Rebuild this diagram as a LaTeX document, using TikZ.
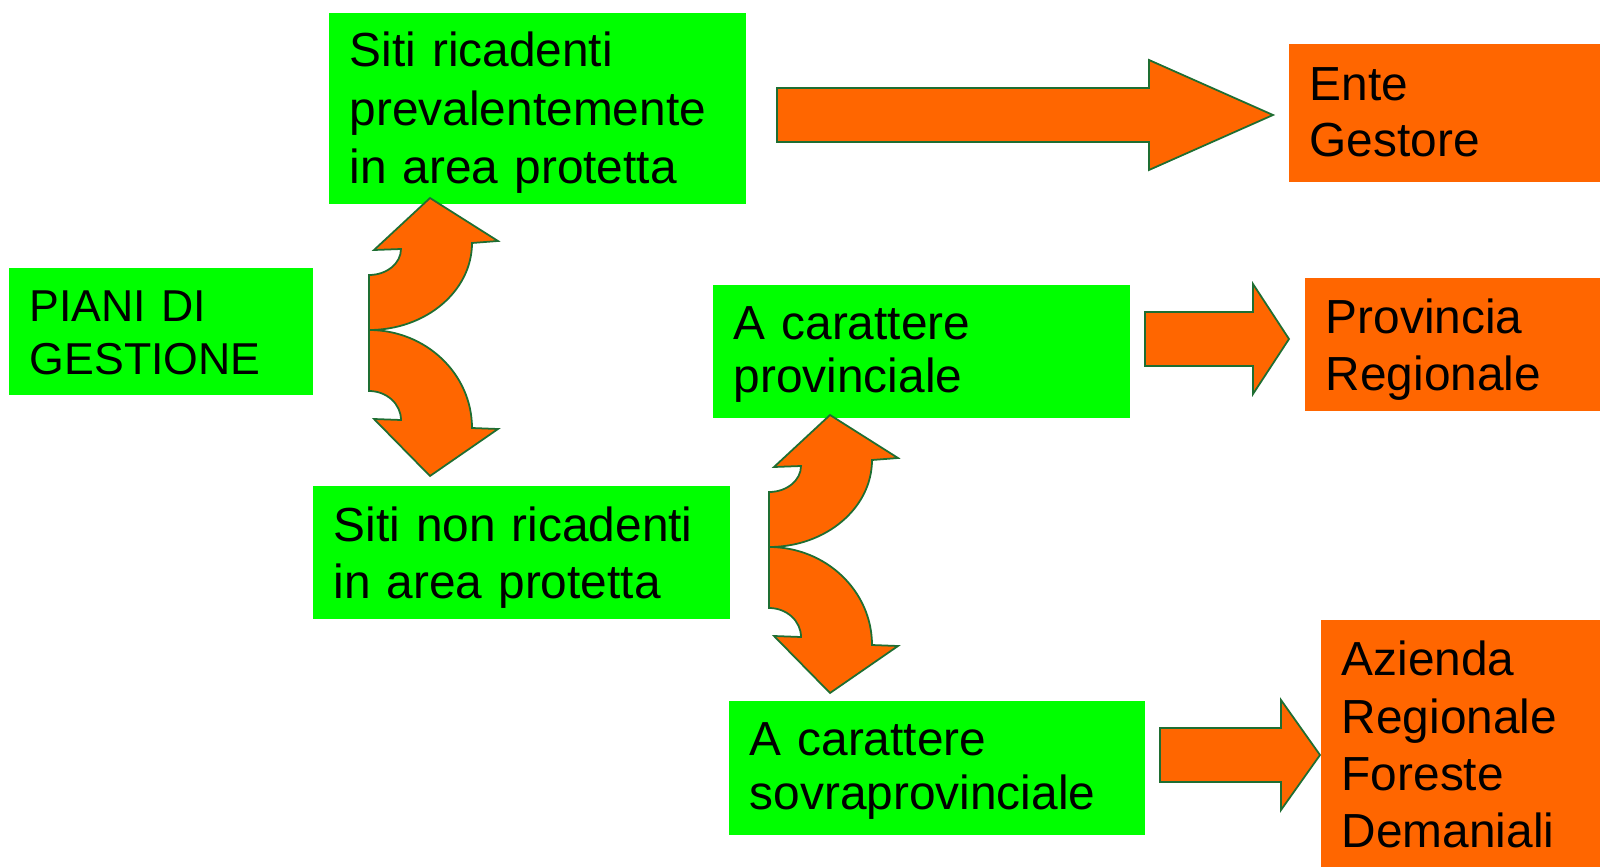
\documentclass[tikz,border=0pt]{standalone}
\usepackage{fontspec}
\setmainfont{Liberation Sans}
\usetikzlibrary{calc}

\definecolor{boxgreen}{HTML}{00FF00}
\definecolor{boxorange}{HTML}{FF6600}
\definecolor{edgegreen}{HTML}{1E6E32}

\tikzset{
  greenbox/.style={fill=boxgreen, anchor=north west, inner xsep=0.21cm, inner ysep=0pt,
    align=left, font=\fontsize{13.6}{16.1}\selectfont},
  orangebox/.style={greenbox, fill=boxorange},
  lines/.style={font=\fontsize{13.6}{#1}\selectfont}, % baseline skip of a box
  blockarrow/.style={fill=boxorange, draw=edgegreen, line width=0.5pt, line join=miter},
  % double curved arrow, (0,0) is the point where both halves meet
  updown/.pic={
    % upper half
    \draw[blockarrow] (0,0) -- (0,-55)
      arc[start angle=90, end angle=0, x radius=32, y radius=26]
      -- (5,-80) -- (61,-132) -- (129,-89) -- (103,-87)
      arc[start angle=0, end angle=90, x radius=103, y radius=87] -- cycle;
    % lower half
    \draw[blockarrow] (0,0) -- (0,61)
      arc[start angle=-90, end angle=0, x radius=32, y radius=29]
      -- (5,89) -- (61,146) -- (129,99) -- (103,98)
      arc[start angle=0, end angle=-90, x radius=103, y radius=98] -- cycle;
  }
}

% straight block arrow: tail, tip, head length
\newcommand{\blockarrow}[3]{%
  \draw[blockarrow] ($(#1)+(0,-27)$) -- ($(#2)+(-#3,-27)$) -- ($(#2)+(-#3,-55)$)
    -- (#2) -- ($(#2)+(-#3,55)$) -- ($(#2)+(-#3,27)$) -- ($(#1)+(0,27)$) -- cycle;}

\begin{document}
\begin{tikzpicture}[x=0.01cm, y=-0.01cm]

    % --- Page ---
    \clip (0,0) rectangle (1600,867);
    \fill[white] (0,0) rectangle (1600,867);

    % --- Green boxes ---
    % text height = top edge to first baseline, text depth = first baseline to bottom edge
    \node[greenbox, font=\fontsize{12.7}{14.9}\selectfont, text width=2.62cm,
      text height=0.54cm, text depth=0.73cm] (piani) at (8,267) {PIANI DI\\GESTIONE};
    \node[greenbox, lines=16.6, text width=3.75cm,
      text height=0.54cm, text depth=1.37cm] (siti) at (328,12) {Siti ricadenti\\prevalentemente\\in area protetta};
    \node[greenbox, lines=16.1, text width=3.75cm,
      text height=0.557cm, text depth=0.773cm] (sitinon) at (312,485) {Siti non ricadenti\\in area protetta};
    \node[greenbox, lines=15.2, text width=3.75cm,
      text height=0.543cm, text depth=0.787cm] (prov) at (712,284) {A carattere\\provinciale};
    \node[greenbox, lines=15.6, text width=3.74cm,
      text height=0.543cm, text depth=0.797cm] (sovra) at (728,700) {A carattere\\sovraprovinciale};

    % --- Orange boxes ---
    \node[orangebox, lines=16.1, text width=3.0cm,
      text height=0.563cm, text depth=0.817cm] (ente) at (1288,43) {Ente\\Gestore};
    \node[orangebox, lines=16.1, text width=3.0cm,
      text height=0.557cm, text depth=0.773cm] (provreg) at (1304,277) {Provincia\\Regionale};
    \node[orangebox, lines=16.3, text width=3.0cm,
      text height=0.56cm, text depth=2.04cm] (azienda) at (1320,619) {Azienda\\Regionale\\Foreste\\Demaniali};

    % --- Curved double arrows ---
    \pic at (369,330) {updown};
    \pic at (769,547) {updown};

    % --- Straight arrows ---
    \coordinate (enteTail) at (777,115);
    \coordinate (enteTip) at (1273,115);
    \coordinate (provTail) at (1145,339);
    \coordinate (provTip) at (1289,339);
    \coordinate (azTail) at (1160,755);
    \coordinate (azTip) at (1320,755);

    \blockarrow{enteTail}{enteTip}{124}
    \blockarrow{provTail}{provTip}{36}
    \blockarrow{azTail}{azTip}{39}

\end{tikzpicture}
\end{document}
